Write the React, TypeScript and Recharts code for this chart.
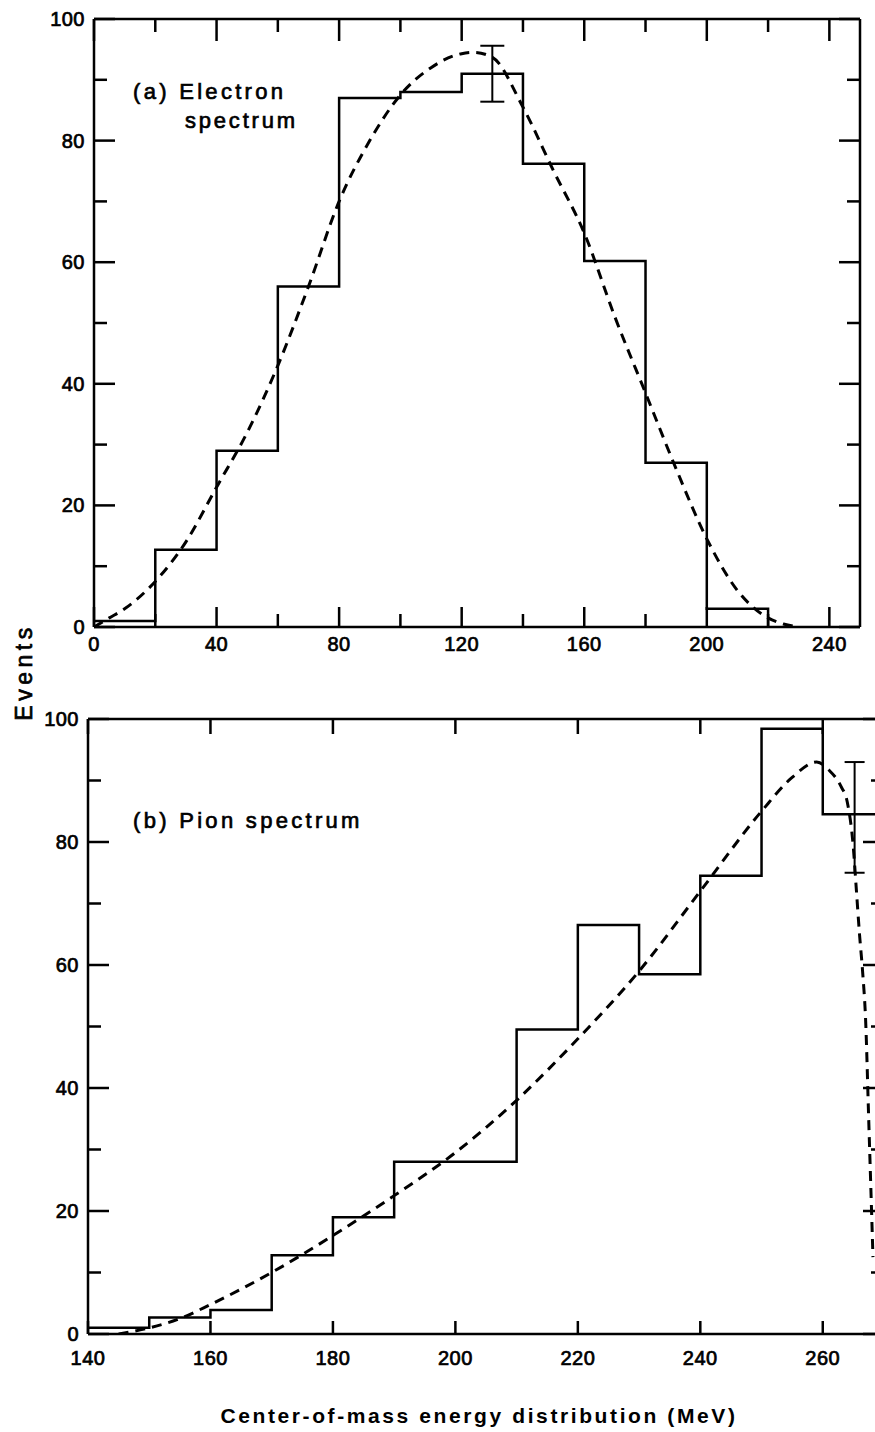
import React from "react";
import { ComposedChart, Line, XAxis, YAxis, Scatter, ErrorBar } from "recharts";

// (a) electron spectrum, 20 MeV bins
const electronEdges = [0, 20, 40, 60, 80, 100, 120, 140, 160, 180, 200, 220];
const electronCounts = [1, 12.7, 29, 56, 87, 88, 91, 76.2, 60.2, 27, 3];
const electronFitE = [0, 5, 10, 20, 30, 40, 50, 60, 70, 80, 90, 100, 110, 120, 124, 130, 140, 150, 160, 170, 180, 190, 200, 210, 220, 225, 230];
const electronFitN = [0, 1.5, 3, 7.5, 14, 23, 32, 43, 56, 70, 80, 87.5, 92, 94.3, 94.5, 93.7, 85.5, 75, 64.8, 51, 38.5, 26, 14.5, 6, 1.5, 0.5, 0];
const electronErrE = [130];
const electronErrN = [91];
const electronErrSize = [4.6];

// (b) pion spectrum, 10 MeV bins
const pionEdges = [140, 150, 160, 170, 180, 190, 200, 210, 220, 230, 240, 250, 260, 270];
const pionCounts = [1, 2.7, 3.9, 12.8, 19, 28, 28, 49.5, 66.5, 58.5, 74.5, 98.4, 84.5];
const pionFitE = [145, 150, 155, 160, 170, 180, 190, 200, 210, 220, 230, 240, 250, 255, 259, 261, 263, 264, 265, 265.5, 266, 266.5, 267, 267.5, 268, 268.2];
const pionFitN = [0, 1, 2.5, 4.8, 10, 16, 22.5, 29.5, 38, 48, 59, 72, 85, 90.5, 93, 91.7, 89, 86.5, 79, 72, 65, 59, 51, 35, 19, 12.5];
const pionErrE = [265.2];
const pionErrN = [84];
const pionErrSize = [9];

// axes
const topXTicks = [0, 20, 40, 60, 80, 100, 120, 140, 160, 180, 200, 220, 240];
const topXLabels = [0, 40, 80, 120, 160, 200, 240];
const countTicks = [0, 10, 20, 30, 40, 50, 60, 70, 80, 90, 100];
const countLabels = [0, 20, 40, 60, 80, 100];
const pionXTicks = [140, 160, 180, 200, 220, 240, 260];

const histData = (edges: number[], counts: number[]) =>
  edges.map((e, i) => ({ x: e, y: i < counts.length ? counts[i] : 0 }));
const curveData = (xs: number[], ys: number[]) => xs.map((x, i) => ({ x, y: ys[i] }));
const errData = (xs: number[], ys: number[], es: number[]) => xs.map((x, i) => ({ x, y: ys[i], err: es[i] }));

const AX = 2.5;
const FONT = "'Liberation Sans', Arial, sans-serif";
// slightly heavier lettering than the plain regular face
const inked = { fontFamily: FONT, fill: "#000", stroke: "#000", strokeWidth: 0.7 };

type Side = "left" | "right" | "top" | "bottom";

function tickFactory(side: Side, labels: number[], majorLen: number, minorLen: number, off: number) {
  return (props: any) => {
    const { x, y, payload } = props;
    const v = payload.value;
    const lab = labels.includes(v);
    const len = lab ? majorLen : minorLen;
    let x2 = x;
    let y2 = y;
    if (side === "left") x2 = x + len;
    if (side === "right") x2 = x - len;
    if (side === "bottom") y2 = y - len;
    if (side === "top") y2 = y + len;
    let text = null;
    if (lab && side === "left") {
      text = (
        <text x={x - off} y={y + 7} textAnchor="end" fontSize={20} letterSpacing={0.5} {...inked}>
          {v}
        </text>
      );
    }
    if (lab && side === "bottom") {
      text = (
        <text x={x} y={y + off} textAnchor="middle" fontSize={20} letterSpacing={0.5} {...inked}>
          {v}
        </text>
      );
    }
    return (
      <g>
        <line x1={x} y1={y} x2={x2} y2={y2} stroke="#000" strokeWidth={AX} />
        {text}
      </g>
    );
  };
}

const axisLine = { stroke: "#000", strokeWidth: AX };
const common = { tickSize: 0, tickMargin: 0, tickLine: false, axisLine, interval: 0 as const, allowDataOverflow: true };

function Panel(props: {
  width: number;
  height: number;
  margin: any;
  domain: [number, number];
  xTicks: number[];
  xLabels: number[];
  xMajor: number;
  xMinor: number;
  xTopMajor: number;
  xTopMinor: number;
  labelOff: number;
  hist: any[];
  fit: any[];
  err: any[];
  capWidth: number;
}) {
  return (
    <ComposedChart width={props.width} height={props.height} margin={props.margin}>
      <XAxis xAxisId="b" dataKey="x" type="number" domain={props.domain} ticks={props.xTicks} height={1}
        tick={tickFactory("bottom", props.xLabels, props.xMajor, props.xMinor, props.labelOff)} {...common} />
      <XAxis xAxisId="t" orientation="top" dataKey="x" type="number" domain={props.domain} ticks={props.xTicks} height={1}
        tick={tickFactory("top", props.xLabels, props.xTopMajor, props.xTopMinor, 0)} {...common} />
      <YAxis yAxisId="l" type="number" domain={[0, 100]} ticks={countTicks} width={1}
        tick={tickFactory("left", countLabels, 21, 13, 9)} {...common} />
      <YAxis yAxisId="r" orientation="right" type="number" domain={[0, 100]} ticks={countTicks} width={1}
        tick={tickFactory("right", countLabels, 21, 13, 0)} {...common} />
      <Line xAxisId="b" yAxisId="l" data={props.hist} dataKey="y" type="stepAfter" stroke="#000"
        strokeWidth={2.5} dot={false} activeDot={false} isAnimationActive={false} />
      <Line xAxisId="b" yAxisId="l" data={props.fit} dataKey="y" type="monotone" stroke="#000"
        strokeWidth={3} strokeDasharray="10 7" dot={false} activeDot={false} isAnimationActive={false} />
      <Scatter xAxisId="b" yAxisId="l" data={props.err} dataKey="y" shape={() => <g />} isAnimationActive={false}>
        <ErrorBar dataKey="err" direction="y" width={props.capWidth} stroke="#000" strokeWidth={2} isAnimationActive={false} />
      </Scatter>
    </ComposedChart>
  );
}

export default function App() {
  return (
    <div style={{ position: "absolute", left: 0, top: 0, width: 875, height: 1432, overflow: "hidden", background: "#fff" }}>
      <div style={{ position: "absolute", left: 0, top: 0 }}>
        <Panel width={875} height={700} margin={{ top: 18, right: 14, bottom: 72, left: 93 }} domain={[0, 250]}
          xTicks={topXTicks} xLabels={topXLabels} xMajor={20} xMinor={13} xTopMajor={22} xTopMinor={13} labelOff={24}
          hist={histData(electronEdges, electronCounts)} fit={curveData(electronFitE, electronFitN)}
          err={errData(electronErrE, electronErrN, electronErrSize)} capWidth={12} />
      </div>
      <div style={{ position: "absolute", left: 0, top: 700 }}>
        <Panel width={900} height={732} margin={{ top: 18, right: 15, bottom: 97, left: 87 }} domain={[140, 270]}
          xTicks={pionXTicks} xLabels={pionXTicks} xMajor={13} xMinor={13} xTopMajor={15} xTopMinor={15} labelOff={31}
          hist={histData(pionEdges, pionCounts)} fit={curveData(pionFitE, pionFitN)}
          err={errData(pionErrE, pionErrN, pionErrSize)} capWidth={10} />
      </div>
      <svg width={875} height={1432} style={{ position: "absolute", left: 0, top: 0, pointerEvents: "none" }}>
        <text x={133} y={99} fontSize={22} letterSpacing={3.3} {...inked}>(a) Electron</text>
        <text x={185} y={128} fontSize={22} letterSpacing={2.8} {...inked}>spectrum</text>
        <text x={133} y={828} fontSize={22} letterSpacing={3.3} {...inked}>(b) Pion spectrum</text>
        <text transform="translate(32,672) rotate(-90)" textAnchor="middle" fontSize={23} letterSpacing={4.5} {...inked}>Events</text>
        <text x={479} y={1423} textAnchor="middle" fontSize={21} fontWeight="bold" letterSpacing={2.6} fontFamily={FONT} fill="#000">
          Center-of-mass energy distribution (MeV)
        </text>
      </svg>
    </div>
  );
}
